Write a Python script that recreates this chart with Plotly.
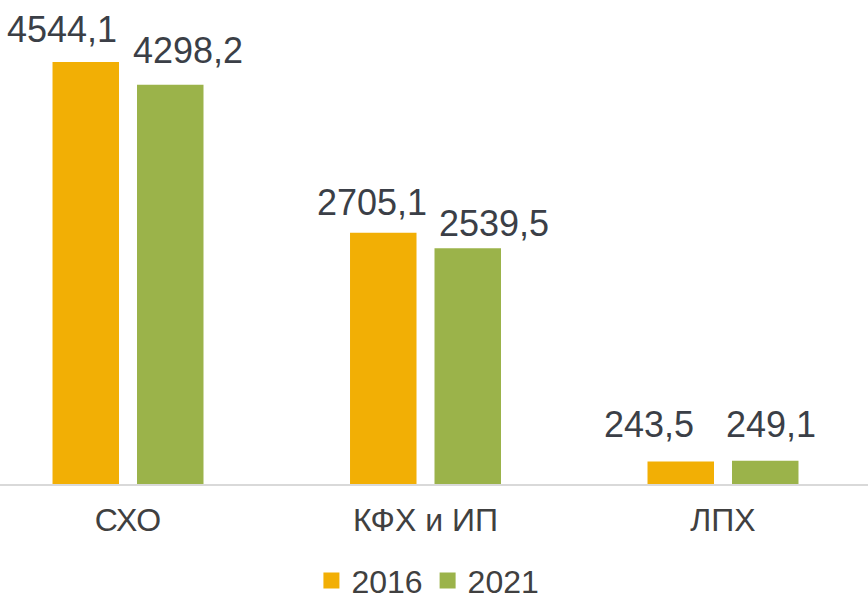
import plotly.graph_objects as go

categories = ["СХО", "КФХ и ИП", "ЛПХ"]
values_2016 = [4544.1, 2705.1, 243.5]
values_2021 = [4298.2, 2539.5, 249.1]
series_names = ["2016", "2021"]

# styling
colors = ["#F2AF05", "#9BB34A"]
bar_offset_px = [-42.25, 42.25]
label_dx = [[-23.5, -11.5, -32], [18, 26.5, 6]]
label_gap = [[19, 17, 23], [21, 11, 23]]

def fmt(v):
    return f"{v:.1f}".replace(".", ",")

FONT = "Liberation Sans, Arial, sans-serif"
fig = go.Figure()
series_vals = [values_2016, values_2021]
for name, vals, col in zip(series_names, series_vals, colors):
    fig.add_trace(go.Bar(
        name=name, x=categories, y=vals,
        marker=dict(color=col, line=dict(width=0)),
        showlegend=False, hoverinfo="skip",
    ))
for name, col in zip(series_names, colors):
    fig.add_trace(go.Scatter(
        name=name, x=[None], y=[None], mode="markers",
        marker=dict(symbol="square", size=16, color=col),
        showlegend=True,
    ))

annotations = []
for s, vals in enumerate(series_vals):
    for i, (cat, v) in enumerate(zip(categories, vals)):
        annotations.append(dict(
            x=cat, y=v, xref="x", yref="y", text=fmt(v), showarrow=False,
            xanchor="center", yanchor="bottom",
            xshift=bar_offset_px[s] + label_dx[s][i], yshift=label_gap[s][i] - 9,
            font=dict(size=36, color="#3B3F47", family=FONT),
        ))

fig.update_layout(
    width=868, height=595,
    margin=dict(l=0, r=0, t=0, b=111, autoexpand=False),
    paper_bgcolor="white", plot_bgcolor="white",
    barmode="group", bargap=0.432, bargroupgap=0.213,
    font=dict(family=FONT, color="#404040"),
    xaxis=dict(range=[-0.4303, 2.4874], showline=True, linecolor="#D9D9D9", linewidth=1.5,
               ticks="", tickfont=dict(size=32, color="#404040"), showgrid=False,
               ticklabelstandoff=7, automargin=False, fixedrange=True),
    yaxis=dict(range=[0, 5212], visible=False, showgrid=False, fixedrange=True),
    showlegend=True,
    legend=dict(orientation="h", x=0.493, xanchor="center", y=-0.143, yanchor="top",
                font=dict(size=32, color="#404040"), itemwidth=30),
    annotations=annotations,
)
fig.write_html("out.html", config={"displayModeBar": False},
               post_script="document.body.style.margin='0';document.body.style.padding='0';")
